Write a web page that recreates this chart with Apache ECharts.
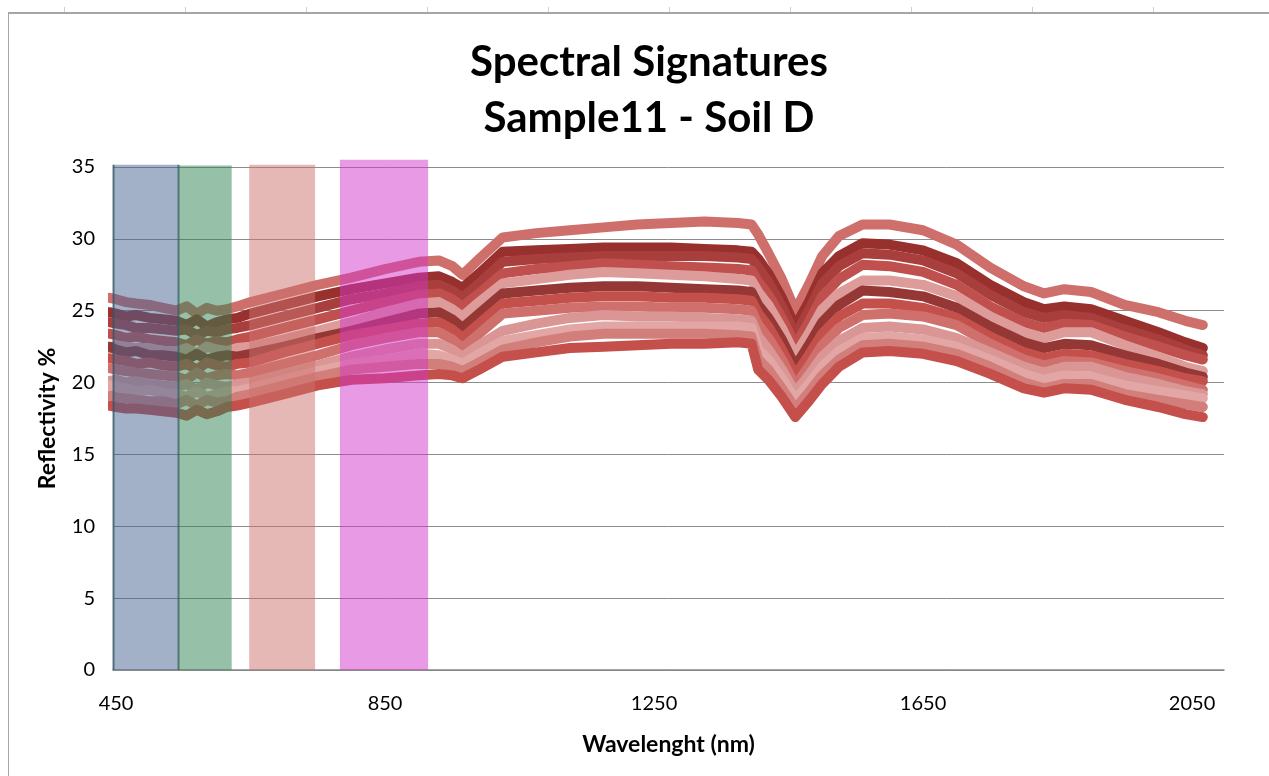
<!DOCTYPE html>
<html>
<head>
<meta charset="utf-8">
<script src="https://cdn.jsdelivr.net/npm/echarts@6/dist/echarts.min.js"></script>
<style>
html,body{margin:0;padding:0;background:#fff;width:1269px;height:776px;overflow:hidden;}
#chart{position:absolute;left:0;top:0;width:1269px;height:776px;}
#frame{position:absolute;left:8px;top:12px;width:1261px;height:764px;border-top:2px solid #a6a6a6;border-left:1px solid #a6a6a6;pointer-events:none;}
#ticks{position:absolute;left:0;top:7px;width:1269px;height:5px;pointer-events:none;
 background:repeating-linear-gradient(to right, transparent 0px, transparent 64px, #d0d0d0 64px, #d0d0d0 65px, transparent 65px, transparent 121px);}
</style>
</head>
<body>
<div id="chart"></div>
<div id="ticks"></div>
<div id="frame"></div>
<script>
// Wavelength sample positions (nm)
const wavelengths = [440,450,465,480,500,520,540,555,570,585,600,615,630,650,700,750,800,850,900,930,950,965,990,1025,1075,1125,1175,1225,1275,1325,1375,1395,1405,1420,1440,1460,1480,1500,1525,1560,1600,1650,1700,1750,1800,1830,1860,1900,1950,2000,2040,2066];

const spectrum1 = [25.9,25.8,25.6,25.5,25.4,25.2,25.0,25.3,24.8,25.2,25.0,25.1,25.3,25.6,26.2,26.8,27.3,27.9,28.4,28.5,28.1,27.5,28.6,30.1,30.4,30.6,30.8,31.0,31.1,31.2,31.1,31.0,30.3,29.0,27.2,25.0,26.8,28.8,30.2,31.0,31.0,30.6,29.6,28.0,26.7,26.2,26.5,26.3,25.4,24.9,24.3,24.0];
const spectrum2 = [24.9,24.8,24.6,24.7,24.5,24.4,24.3,24.0,24.4,23.9,24.2,24.4,24.5,24.8,25.4,26.0,26.5,26.9,27.3,27.4,27.0,26.6,27.6,29.1,29.2,29.3,29.4,29.4,29.4,29.3,29.2,29.1,28.6,27.6,25.9,23.9,25.6,27.6,28.8,29.7,29.6,29.2,28.3,26.8,25.6,25.1,25.3,25.1,24.3,23.5,22.8,22.4];
const spectrum3 = [24.2,24.1,24.0,23.8,23.8,23.7,23.6,23.7,23.3,23.6,23.5,23.7,23.8,24.0,24.6,25.2,25.8,26.2,26.7,26.8,26.4,25.9,26.9,28.4,28.6,28.7,28.8,28.8,28.8,28.8,28.7,28.6,28.0,27.0,25.3,23.3,25.0,26.9,28.1,29.0,28.9,28.5,27.6,26.1,24.9,24.5,24.7,24.5,23.7,23.0,22.3,21.9];
const spectrum4 = [23.4,23.3,23.1,23.2,23.0,22.9,22.8,22.6,23.0,22.7,22.9,22.8,23.0,23.2,23.8,24.4,25.0,25.6,26.1,26.2,25.8,25.3,26.2,27.6,27.9,28.1,28.3,28.2,28.1,28.0,27.9,27.8,27.0,26.1,24.5,22.6,24.2,26.0,27.2,28.2,28.1,27.7,26.8,25.3,24.2,23.8,24.1,24.0,23.2,22.5,21.9,21.6];
const spectrum5 = [22.4,22.6,22.5,22.4,22.4,22.2,22.2,22.4,22.0,22.5,22.3,22.2,22.4,22.5,23.0,23.6,24.2,24.9,25.5,25.6,25.1,24.6,25.6,26.9,27.2,27.5,27.7,27.6,27.5,27.4,27.2,27.1,26.3,25.4,23.8,21.9,23.4,25.1,26.2,27.1,27.1,26.8,26.0,24.6,23.5,23.1,23.5,23.5,22.6,21.8,21.1,20.8];
const spectrum6 = [22.5,22.3,22.1,22.2,21.9,21.9,21.8,21.6,22.0,21.6,21.8,21.9,21.8,22.0,22.5,23.1,23.6,24.2,24.8,24.9,24.4,23.8,24.8,26.2,26.4,26.6,26.7,26.7,26.6,26.5,26.4,26.3,25.4,24.5,23.0,21.1,22.6,24.2,25.4,26.4,26.3,26.0,25.2,23.9,22.8,22.4,22.7,22.6,21.9,21.3,20.7,20.4];
const spectrum7 = [21.7,21.6,21.5,21.3,21.4,21.2,21.1,21.3,20.9,21.4,21.2,21.1,21.3,21.4,22.1,22.7,23.3,23.7,24.1,24.2,23.7,23.1,24.1,25.5,25.7,25.9,26.0,26.0,25.9,25.9,25.8,25.7,24.8,23.9,22.3,20.5,21.9,23.4,24.6,25.5,25.5,25.2,24.5,23.2,22.1,21.7,22.0,21.9,21.3,20.8,20.3,20.1];
const spectrum8 = [21.0,20.9,20.8,20.7,20.6,20.5,20.4,20.2,20.7,20.3,20.5,20.6,20.5,20.7,21.3,21.9,22.6,23.1,23.5,23.5,23.0,22.4,23.4,24.8,25.0,25.2,25.3,25.3,25.2,25.2,25.1,25.0,24.0,23.1,21.6,19.8,21.1,22.6,23.8,24.7,24.8,24.6,24.0,22.7,21.6,21.2,21.5,21.4,20.8,20.3,19.8,19.5];
const spectrum9 = [20.1,20.2,20.0,20.1,19.9,19.8,19.7,19.9,19.5,20.0,19.8,19.7,19.9,20.0,20.6,21.2,21.8,22.3,22.7,22.7,22.3,21.8,22.6,23.6,24.1,24.5,24.7,24.6,24.6,24.5,24.4,24.3,23.2,22.3,20.9,19.3,20.5,21.8,22.9,23.8,23.9,23.7,23.1,22.1,21.1,20.7,21.1,21.1,20.4,19.9,19.4,19.2];
const spectrum10 = [19.8,19.7,19.6,19.4,19.5,19.3,19.2,19.0,19.4,19.0,19.2,19.4,19.4,19.6,20.2,20.8,21.3,21.6,22.0,21.9,21.6,21.3,22.0,22.9,23.3,23.7,23.9,23.9,23.9,23.9,23.9,23.8,22.3,21.6,20.3,18.8,19.9,21.1,22.2,23.1,23.2,23.0,22.5,21.6,20.6,20.2,20.5,20.4,19.8,19.4,19.1,18.9];
const spectrum11 = [19.1,19.0,18.9,18.8,18.7,18.7,18.5,18.8,18.4,18.8,18.6,18.7,19.0,19.2,19.8,20.4,20.9,21.1,21.3,21.3,21.1,20.8,21.4,22.3,22.8,23.2,23.4,23.4,23.4,23.4,23.3,23.2,21.6,20.9,19.6,18.2,19.3,20.5,21.6,22.6,22.7,22.5,22.0,21.1,20.0,19.6,19.9,19.9,19.2,18.8,18.5,18.3];
const spectrum12 = [18.4,18.3,18.2,18.2,18.1,18.0,17.9,17.7,18.1,17.8,18.0,18.3,18.4,18.6,19.2,19.8,20.2,20.3,20.5,20.6,20.5,20.3,20.9,21.8,22.1,22.4,22.5,22.6,22.7,22.7,22.8,22.7,20.9,20.2,19.0,17.6,18.7,19.9,21.1,22.1,22.2,22.0,21.5,20.6,19.6,19.3,19.6,19.5,18.8,18.3,17.8,17.6];

const spectra = [spectrum1,spectrum2,spectrum3,spectrum4,spectrum5,spectrum6,spectrum7,spectrum8,spectrum9,spectrum10,spectrum11,spectrum12];
const spectrumColors = ['#cf6f6c','#98302e','#a93f3c','#c0504d','#dd9c9a','#953735','#c4504c','#d0706d','#d99694','#e2a6a4','#d27e7b','#c44f4b'];

// Highlighted spectral bands (nm) and their heights (%)
const bandNames = ['Blue','Green','Red','NIR'];
const bandStart = [445.5, 543, 648, 783];
const bandEnd = [543, 622, 746, 914];
const bandTop = [35.15, 35.1, 35.15, 35.5];
const bandColors = ['rgba(69,99,145,0.5)','rgba(45,131,81,0.5)','rgba(203,113,109,0.5)','rgba(209,53,201,0.5)'];

// Axis ticks
const xTickLabels = [450, 850, 1250, 1650, 2050];

const chart = echarts.init(document.getElementById('chart'), null, {renderer:'canvas'});

const FONT = 'Lato, "Open Sans", sans-serif';

const lineSeries = spectra.map((s, k) => ({
  type: 'line',
  name: 'Spectrum ' + (k + 1),
  data: wavelengths.map((w, i) => [w, s[i]]),
  showSymbol: false,
  symbol: 'none',
  clip: false,
  silent: true,
  z: 2,
  lineStyle: { width: 10, color: spectrumColors[k], join: 'round', cap: 'round' },
  emphasis: { disabled: true }
}));

const bandSeries = {
  type: 'custom',
  name: 'bands',
  silent: true,
  z: 5,
  clip: false,
  encode: { x: [0, 1], y: 2 },
  data: bandStart.map((b, i) => [b, bandEnd[i], bandTop[i], i]),
  renderItem: function (params, api) {
    const i = api.value(3);
    const p0 = api.coord([api.value(0), api.value(2)]);
    const p1 = api.coord([api.value(1), 0]);
    const children = [{
      type: 'rect',
      shape: { x: p0[0], y: p0[1], width: p1[0] - p0[0], height: p1[1] - p0[1] },
      style: { fill: bandColors[i] }
    }];
    if (i === 0) {
      children.push({ type: 'line', shape: { x1: p0[0] + 0.5, y1: p0[1], x2: p0[0] + 0.5, y2: p1[1] }, style: { stroke: 'rgba(50,85,100,0.75)', lineWidth: 2 } });
      children.push({ type: 'line', shape: { x1: p1[0], y1: p0[1], x2: p1[0], y2: p1[1] }, style: { stroke: 'rgba(50,85,100,0.75)', lineWidth: 2 } });
    }
    return { type: 'group', children: children };
  }
};

chart.setOption({
  animation: false,
  backgroundColor: '#ffffff',
  title: {
    text: 'Spectral Signatures\nSample11 - Soil D',
    left: 644,
    textAlign: 'center',
    top: 29,
    textStyle: { fontFamily: FONT, fontSize: 42, fontWeight: 'bold', color: '#000', lineHeight: 56 }
  },
  grid: { left: 113, right: 45, top: 167, bottom: 106, containLabel: false },
  xAxis: {
    type: 'value',
    min: 445.5,
    max: 2097.5,
    name: 'Wavelenght (nm)',
    nameLocation: 'middle',
    nameGap: 63,
    nameTextStyle: { fontFamily: FONT, fontSize: 23, fontWeight: 'bold', color: '#000' },
    axisLine: { show: true, lineStyle: { color: '#868686', width: 1.5 } },
    axisTick: { show: false },
    splitLine: { show: false },
    axisLabel: {
      customValues: xTickLabels,
      margin: 24,
      fontFamily: FONT, fontSize: 20, color: '#000',
      formatter: v => String(v)
    }
  },
  yAxis: {
    type: 'value',
    min: 0,
    max: 35,
    interval: 5,
    name: 'Reflectivity %',
    nameLocation: 'middle',
    nameRotate: 90,
    nameGap: 54,
    nameTextStyle: { fontFamily: FONT, fontSize: 23, fontWeight: 'bold', color: '#000' },
    axisLine: { show: false },
    axisTick: { show: false },
    splitLine: { show: true, lineStyle: { color: '#8c8c8c', width: 1 } },
    axisLabel: { margin: 18, fontFamily: FONT, fontSize: 20, color: '#000' }
  },
  series: lineSeries.concat([bandSeries])
});
</script>
</body>
</html>
